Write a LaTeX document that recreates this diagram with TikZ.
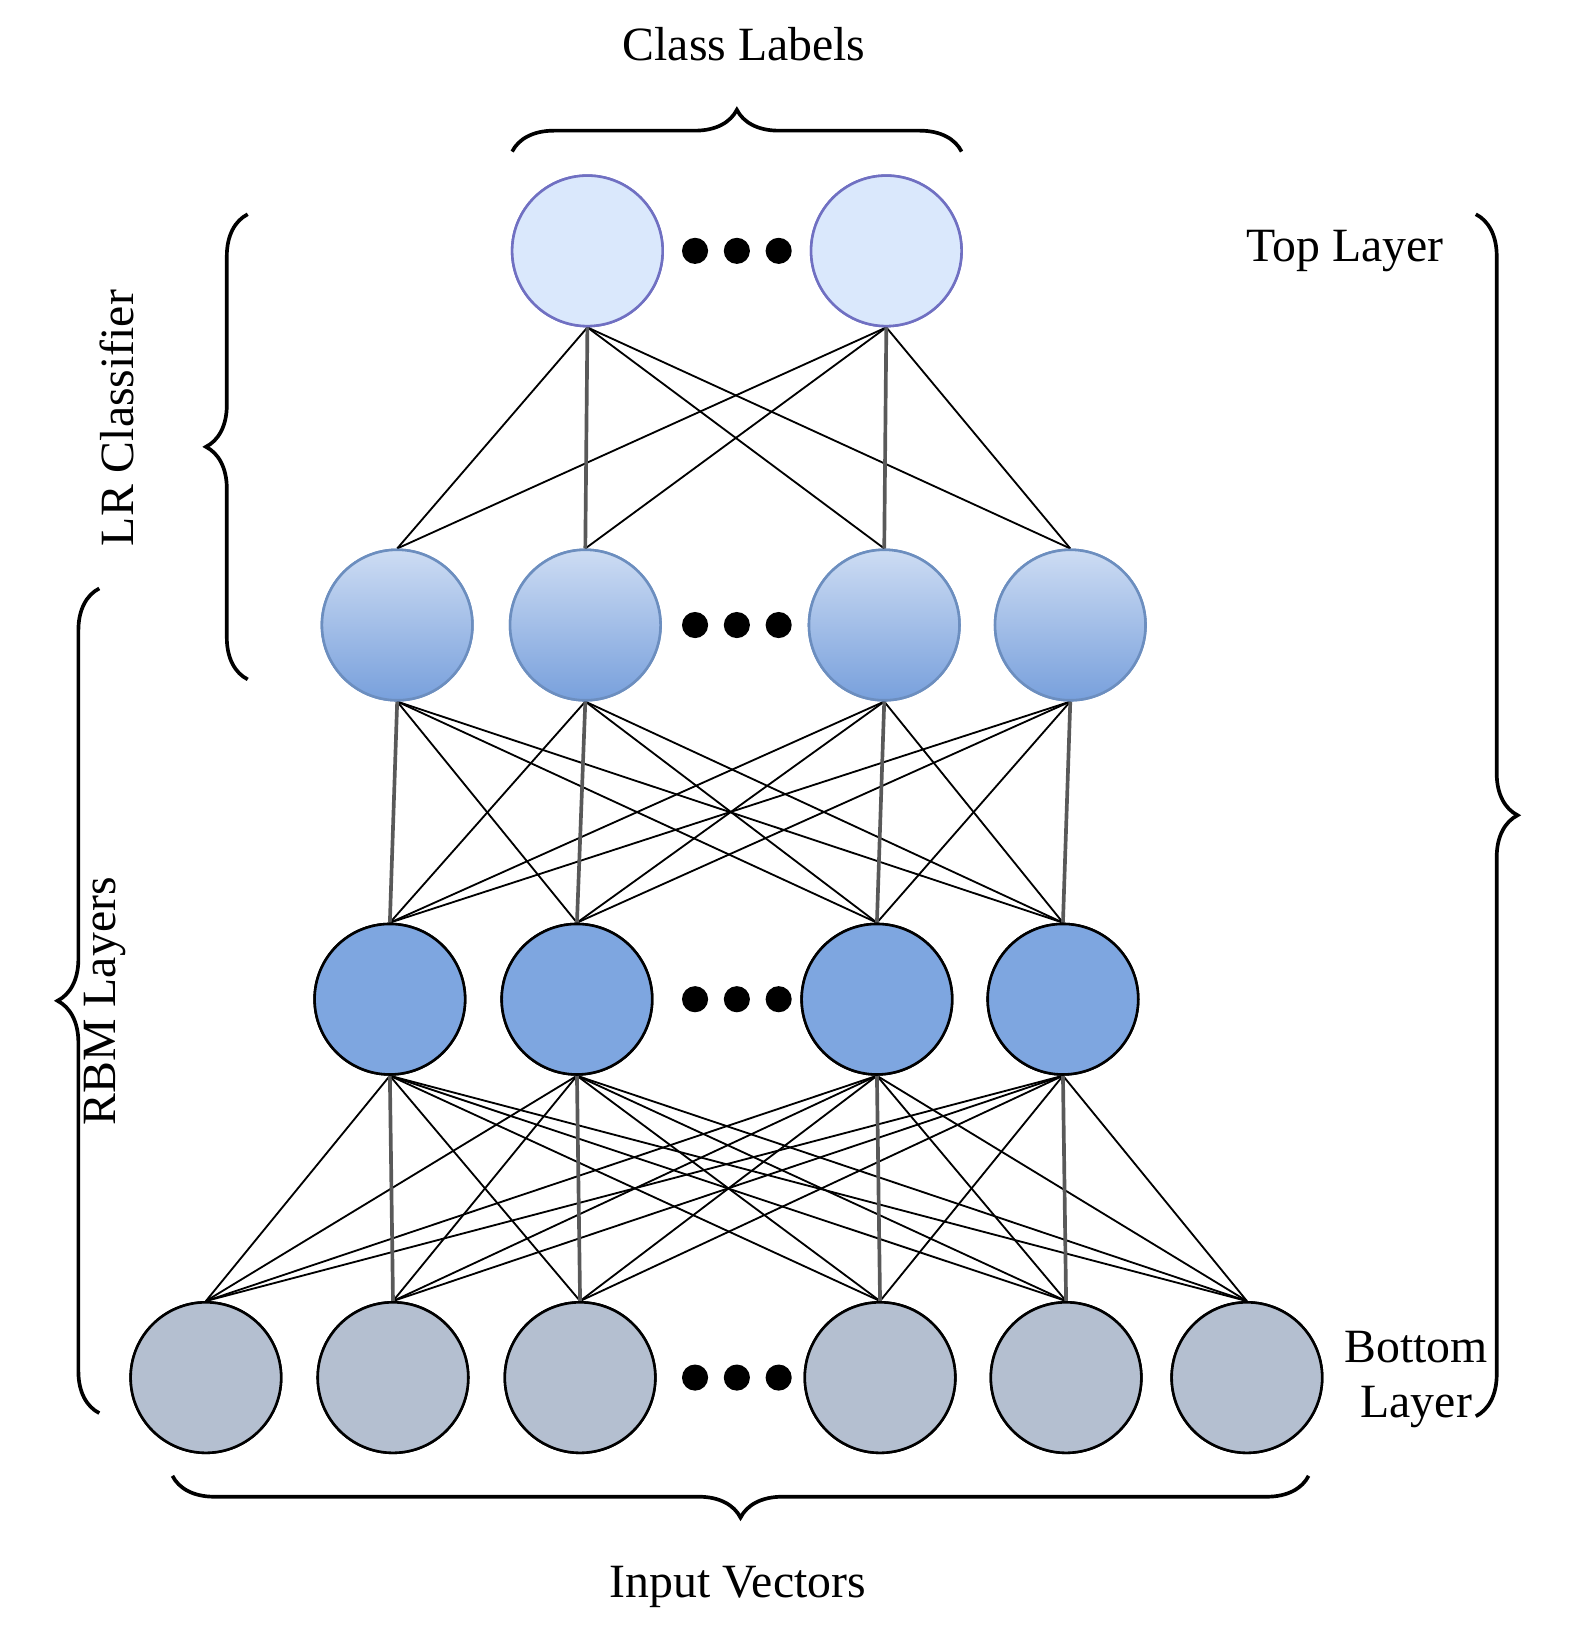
\documentclass[tikz,border=0pt]{standalone}
\usepackage{fontspec}
\setmainfont{Liberation Serif}
\usetikzlibrary{decorations.pathreplacing}
\begin{document}
\begin{tikzpicture}[x=0.1mm,y=-0.1mm,
  nd/.style={circle,minimum size=14.4mm,inner sep=0pt,line width=0.7pt},
  top/.style={nd,draw=blue!40!gray!80,fill={rgb,255:red,218;green,232;blue,252}},
  hid/.style={nd,draw={rgb,255:red,108;green,142;blue,191},top color={rgb,255:red,205;green,220;blue,243},bottom color={rgb,255:red,120;green,160;blue,220}},
  rbm/.style={nd,draw=black,fill={rgb,255:red,126;green,166;blue,224}},
  inp/.style={nd,draw=black,fill={rgb,255:red,180;green,191;blue,208}},
  e/.style={line width=0.5pt,black},
  v/.style={line width=1pt,gray!70!black},
  dots/.style={font=\fontsize{40}{40}\selectfont\bfseries},
  br/.style={decorate,decoration={brace,amplitude=4mm},line width=1pt},
  lbl/.style={font=\fontsize{13}{15}\selectfont}]
\useasboundingbox (0,0) rectangle (1520,1571);
% nodes
\node[top] (t1) at (562,240) {}; \node[top] (t2) at (848,240) {};
\node[hid] (h1) at (380,598) {}; \node[hid] (h2) at (560,598) {};
\node[hid] (h3) at (846,598) {}; \node[hid] (h4) at (1024,598) {};
\node[rbm] (r1) at (373,956) {}; \node[rbm] (r2) at (552,956) {};
\node[rbm] (r3) at (839,956) {}; \node[rbm] (r4) at (1017,956) {};
\node[inp] (i1) at (197,1318) {}; \node[inp] (i2) at (376,1318) {};
\node[inp] (i3) at (555,1318) {}; \node[inp] (i4) at (842,1318) {};
\node[inp] (i5) at (1020,1318) {}; \node[inp] (i6) at (1193,1318) {};
% dots
\foreach \n/\y in {d1/240,d2/598,d3/956,d4/1318}{
  \foreach \k/\dx in {a/-40,b/0,c/40}{
    \fill (705+\dx,\y) circle (1.25mm);}}
\node (d1) at (705,240) {}; 
% edges
\begin{scope}[on background layer/.try]
\foreach \a in {t1,t2}{\foreach \b in {h1,h2,h3,h4}{\draw[e] (\a.south) -- (\b.north);}}
\draw[v] (t1.south) -- (h2.north); \draw[v] (t2.south) -- (h3.north);
\foreach \a in {h1,h2,h3,h4}{\foreach \b in {r1,r2,r3,r4}{\draw[e] (\a.south) -- (\b.north);}}
\draw[v] (h1.south) -- (r1.north); \draw[v] (h2.south) -- (r2.north);
\draw[v] (h3.south) -- (r3.north); \draw[v] (h4.south) -- (r4.north);
\foreach \a in {r1,r2,r3,r4}{\foreach \b in {i1,i2,i3,i4,i5,i6}{\draw[e] (\a.south) -- (\b.north);}}
\draw[v] (r1.south) -- (i2.north); \draw[v] (r2.south) -- (i3.north);
\draw[v] (r3.south) -- (i4.north); \draw[v] (r4.south) -- (i5.north);
\end{scope}
% redraw nodes on top
\node[top] at (t1) {}; \node[top] at (t2) {};
\node[hid] at (h1) {}; \node[hid] at (h2) {}; \node[hid] at (h3) {}; \node[hid] at (h4) {};
\node[rbm] at (r1) {}; \node[rbm] at (r2) {}; \node[rbm] at (r3) {}; \node[rbm] at (r4) {};
\foreach \i in {i1,i2,i3,i4,i5,i6}{\node[inp] at (\i) {};}
% braces
\coordinate (cl1) at (490,145); \coordinate (cl2) at (920,145);
\draw[br] (cl1) -- (cl2);
\node[lbl] (cl) at (712,42) {Class Labels};
\coordinate (lr1) at (237,650); \coordinate (lr2) at (237,205);
\draw[br] (lr1) -- (lr2);
\node[lbl,rotate=90] (lr) at (112,400) {LR Classifier};
\coordinate (rb1) at (95,1352); \coordinate (rb2) at (95,563);
\draw[br] (rb1) -- (rb2);
\node[lbl,rotate=90] (rb) at (100,958) {RBM Layers};
\coordinate (tl1) at (1412,205); \coordinate (tl2) at (1412,1355);
\draw[br] (tl1) -- (tl2);
\node[lbl] (tl) at (1287,240) {Top Layer};
\node[lbl,align=center] (bl) at (1355,1320) {Bottom\\Layer};
\coordinate (iv1) at (1252,1412); \coordinate (iv2) at (165,1412);
\draw[br] (iv1) -- (iv2);
\node[lbl] (iv) at (706,1518) {Input Vectors};
\end{tikzpicture}
\end{document}
